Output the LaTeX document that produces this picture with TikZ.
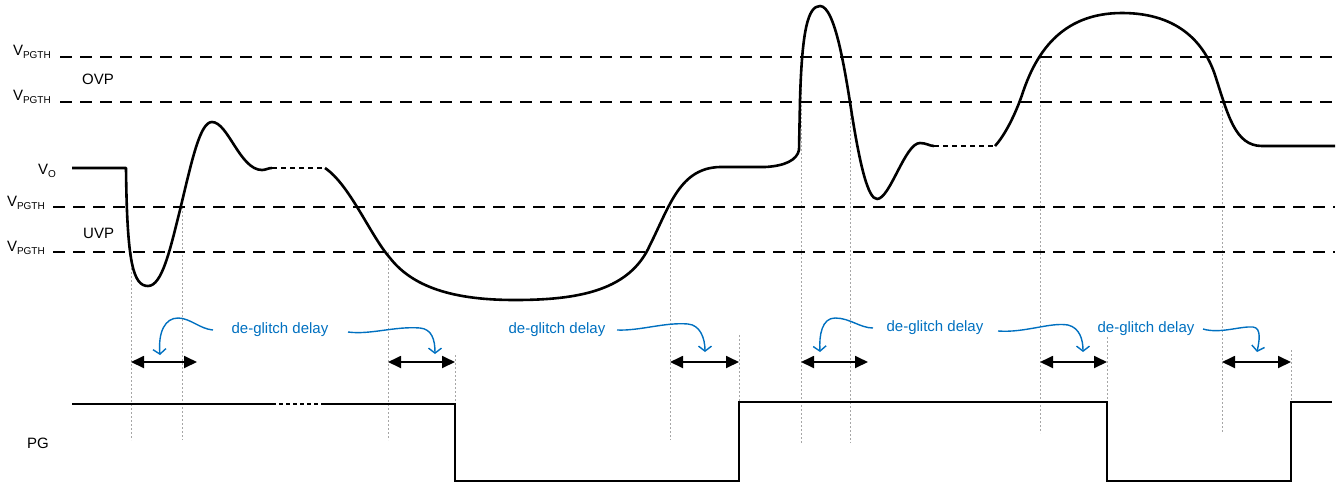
\documentclass[tikz,border=0pt]{standalone}
\usepackage{fontspec}
\setmainfont{Liberation Sans}
\usepackage{xcolor}
\usetikzlibrary{arrows.meta}
\definecolor{dgblue}{RGB}{0,112,192}
\newcommand{\vsub}[1]{V\raisebox{-3pt}{\fontsize{10}{12}\selectfont #1}}
\tikzset{
  thres/.style={line width=2.2pt, dash pattern=on 12pt off 8pt},
  wave/.style={line width=2.6pt, line join=round},
  wavedots/.style={line width=2.6pt, dash pattern=on 5pt off 4pt},
  pgline/.style={line width=2pt, line join=miter},
  guide/.style={gray!70, line width=0.9pt, dash pattern=on 2pt off 2pt},
  delay/.style={{Triangle[length=13pt,width=12pt]}-{Triangle[length=13pt,width=12pt]}, line width=1.8pt},
  callout/.style={dgblue, line width=1.4pt, -{Straight Barb[length=5pt,width=13pt]}},
  lbl/.style={font=\fontsize{15}{18}\selectfont, inner sep=0pt},
  dglbl/.style={lbl, text=dgblue, anchor=base}
}

\begin{document}
\begin{tikzpicture}[x=1pt, y=-1pt]
    \useasboundingbox (0,0) rectangle (1341,483);

    % 1. crossing instants
    \coordinate (t1) at (131,252);  \coordinate (t2) at (182,207);
    \coordinate (t3) at (388,252);  \coordinate (t4) at (455,355);
    \coordinate (t5) at (670,207);  \coordinate (t6) at (739,335);
    \coordinate (t7) at (801,57);   \coordinate (t8) at (850,102);
    \coordinate (t9) at (1040,57);  \coordinate (t10) at (1107,337);
    \coordinate (t11) at (1222,102); \coordinate (t12) at (1291,350);

    % 2. guide lines
    \foreach \t/\e in {t1/440, t2/440, t3/440, t5/440, t7/443, t8/443, t9/433, t11/433}
        \draw[guide] (\t) -- (\t |- 0,\e);
    \foreach \t/\e in {t4/404, t6/402, t10/402, t12/402}
        \draw[guide] (\t) -- (\t |- 0,\e);

    % 3. thresholds
    \draw[thres] (60,57) -- (1335,57);
    \draw[thres] (60,102) -- (1335,102);
    \draw[thres] (53,207) -- (1335,207);
    \draw[thres] (53,252) -- (1335,252);

    \node[lbl, anchor=base east] (vpg1) at (51,55) {\vsub{PGTH}};
    \node[lbl, anchor=base east] (vpg2) at (51,100) {\vsub{PGTH}};
    \node[lbl, anchor=base east] (vpg3) at (45,206) {\vsub{PGTH}};
    \node[lbl, anchor=base east] (vpg4) at (45,251) {\vsub{PGTH}};
    \node[lbl, anchor=base west] (ovp) at (82,84) {OVP};
    \node[lbl, anchor=base west] (uvp) at (83,238) {UVP};
    \node[lbl, anchor=base east] (vo) at (56,174) {\vsub{O}};
    \node[lbl, anchor=base west] (pg) at (27,448) {PG};

    % 4. output voltage
    \draw[wave] (72,168) -- (126,168)
        .. controls (127,262) and (133,286) .. (148,286)
        .. controls (162,286) and (170,250) .. (180,210)
        .. controls (192,160) and (200,122) .. (212,122)
        .. controls (228,122) and (240,170) .. (262,170)
        .. controls (266,170) and (268,168) .. (272,168);
    \draw[wavedots] (272,168) -- (325,168);
    \draw[wave] (325,168)
        .. controls (350,185) and (370,235) .. (390,258)
        .. controls (415,290) and (460,300) .. (515,300)
        .. controls (580,300) and (630,290) .. (650,245)
        .. controls (670,205) and (680,168) .. (720,167)
        -- (765,167)
        .. controls (785,166) and (797,160) .. (799,150)
        -- (800,100)
        .. controls (802,30) and (808,6) .. (820,6)
        .. controls (835,6) and (845,70) .. (852,115)
        .. controls (860,165) and (868,199) .. (877,199)
        .. controls (890,199) and (905,143) .. (920,143)
        .. controls (926,143) and (930,146) .. (934,146);
    \draw[wavedots] (934,146) -- (995,146);
    \draw[wave] (995,146)
        .. controls (1005,135) and (1015,115) .. (1022,95)
        .. controls (1035,55) and (1060,13) .. (1122,13)
        .. controls (1180,13) and (1205,45) .. (1215,75)
        .. controls (1228,115) and (1235,146) .. (1262,146)
        -- (1335,146);

    % 5. power good
    \draw[pgline] (72,404) -- (272,404);
    \draw[pgline, dash pattern=on 4pt off 3pt] (272,404) -- (323,404);
    \draw[pgline] (323,404) -- (455,404) -- (455,481) -- (739,481) -- (739,402)
        -- (1107,402) -- (1107,481) -- (1291,481) -- (1291,402) -- (1332,402);

    % 6. de-glitch delays
    \draw[delay] (t1 |- 0,362) -- (197,362);
    \draw[delay] (t3 |- 0,362) -- (t4 |- 0,362);
    \draw[delay] (t5 |- 0,362) -- (t6 |- 0,362);
    \draw[delay] (t7 |- 0,362) -- (868,362);
    \draw[delay] (t9 |- 0,362) -- (t10 |- 0,362);
    \draw[delay] (t11 |- 0,362) -- (t12 |- 0,362);

    \node[dglbl] (dg1) at (280,333) {de-glitch delay};
    \node[dglbl] (dg2) at (557,333) {de-glitch delay};
    \node[dglbl] (dg3) at (935,331) {de-glitch delay};
    \node[dglbl] (dg4) at (1146,332) {de-glitch delay};

    \draw[callout] (213,330) .. controls (200,329) and (190,318) .. (178,318)
        .. controls (165,318) and (158,332) .. (160,355);
    \draw[callout] (348,332) .. controls (370,335) and (395,326) .. (420,328)
        .. controls (432,329) and (435,340) .. (435,354);
    \draw[callout] (617,330) .. controls (640,331) and (665,322) .. (688,324)
        .. controls (700,325) and (705,338) .. (705,352);
    \draw[callout] (873,328) .. controls (860,328) and (850,318) .. (835,318)
        .. controls (822,318) and (819,335) .. (820,352);
    \draw[callout] (998,331) .. controls (1025,333) and (1050,322) .. (1068,325)
        .. controls (1080,328) and (1083,340) .. (1083,352);
    \draw[callout] (1203,329) .. controls (1220,334) and (1240,326) .. (1253,327)
        .. controls (1262,328) and (1259,342) .. (1257,352);

\end{tikzpicture}
\end{document}
